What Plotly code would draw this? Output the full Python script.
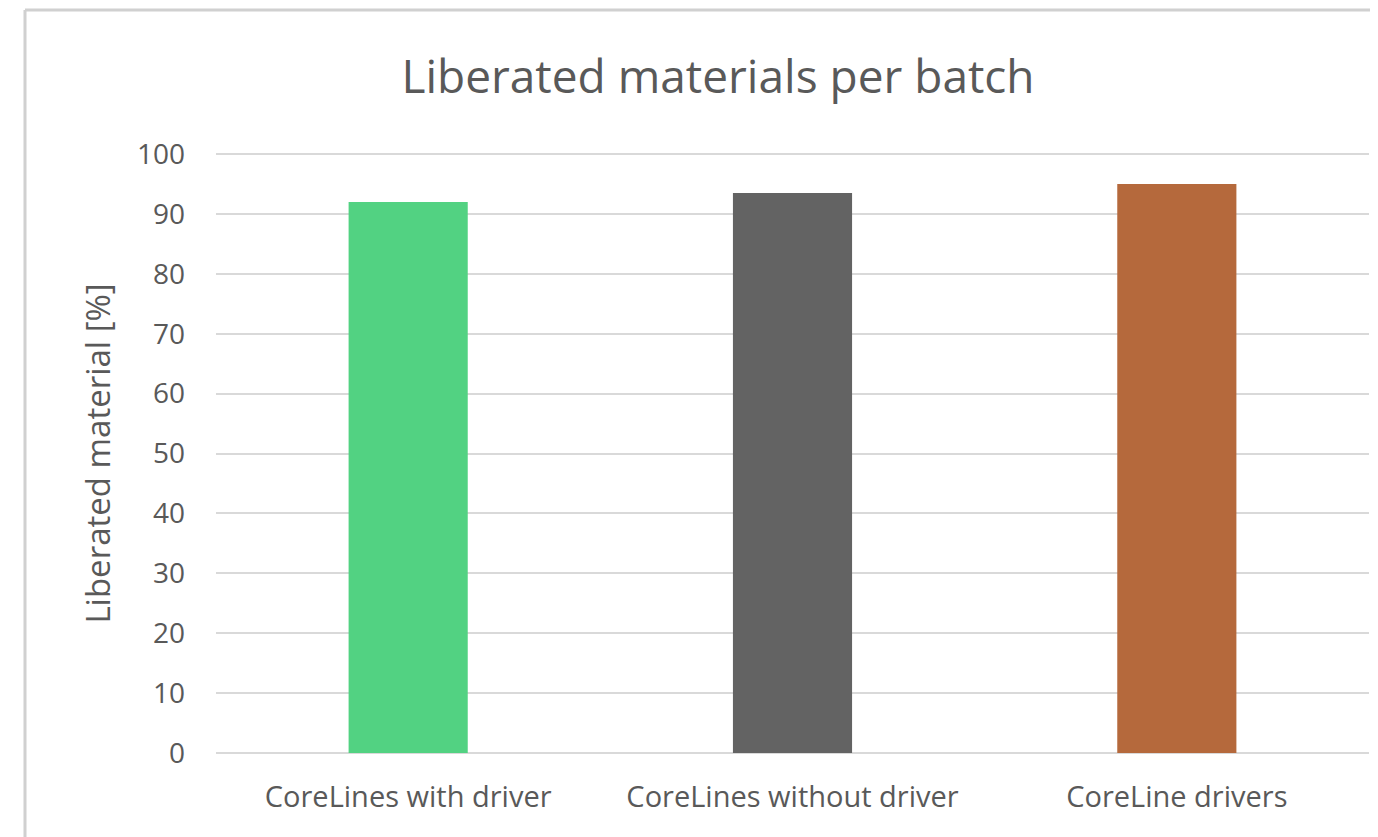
import plotly.graph_objects as go

categories = ["CoreLines with driver", "CoreLines without driver", "CoreLine drivers"]
liberated_pct = [92.0, 93.5, 95.0]
bar_colors = ["#52D282", "#636363", "#B5693C"]
y_ticks = [0, 10, 20, 30, 40, 50, 60, 70, 80, 90, 100]

# page has an 8px body margin, so the figure is 8px smaller than the window
W, H = 1370, 829
M = dict(l=208, r=9, t=143, b=81)
_FONT = "Open Sans, sans-serif"
_TXT = "#595959"

fig = go.Figure(go.Bar(
    x=categories, y=liberated_pct, marker=dict(color=bar_colors, line=dict(width=0)),
    width=0.31, hovertemplate="<b>%{x}</b><br>%{y:.1f}%<extra></extra>",
))

# thin frame at top/left like the source screenshot
pw = W - M["l"] - M["r"]; ph = H - M["t"] - M["b"]
x_left = (17 - M["l"]) / pw
y_top = (H - M["b"] - 2) / ph
fig.add_shape(type="line", xref="paper", yref="paper", x0=x_left, x1=(W - M["l"]) / pw,
              y0=y_top, y1=y_top, line=dict(color="#D0D0D0", width=3))
fig.add_shape(type="line", xref="paper", yref="paper", x0=x_left, x1=x_left,
              y0=y_top, y1=-M["b"] / ph - 0.01, line=dict(color="#D0D0D0", width=3))

fig.update_layout(
    width=W, height=H, margin=M, showlegend=False,
    paper_bgcolor="#FFFFFF", plot_bgcolor="#FFFFFF",
    font=dict(family=_FONT, color=_TXT, size=22),
    title=dict(text="Liberated materials per batch", x=710 / W, xanchor="center",
               y=1 - 69 / H, yanchor="middle", font=dict(size=46, color=_TXT)),
    xaxis=dict(showgrid=False, showline=False, ticks="", ticklabelstandoff=21,
               tickfont=dict(size=29, color=_TXT)),
    yaxis=dict(range=[-0.5, 100.5], tickvals=y_ticks, showgrid=True, gridcolor="#D9D9D9", gridwidth=2,
               zeroline=False, ticks="", ticklabelstandoff=30, tickfont=dict(size=28, color=_TXT),
               title=dict(text="Liberated material [%]", standoff=16, font=dict(size=33, color=_TXT))),
)

fig.write_html("out.html")
